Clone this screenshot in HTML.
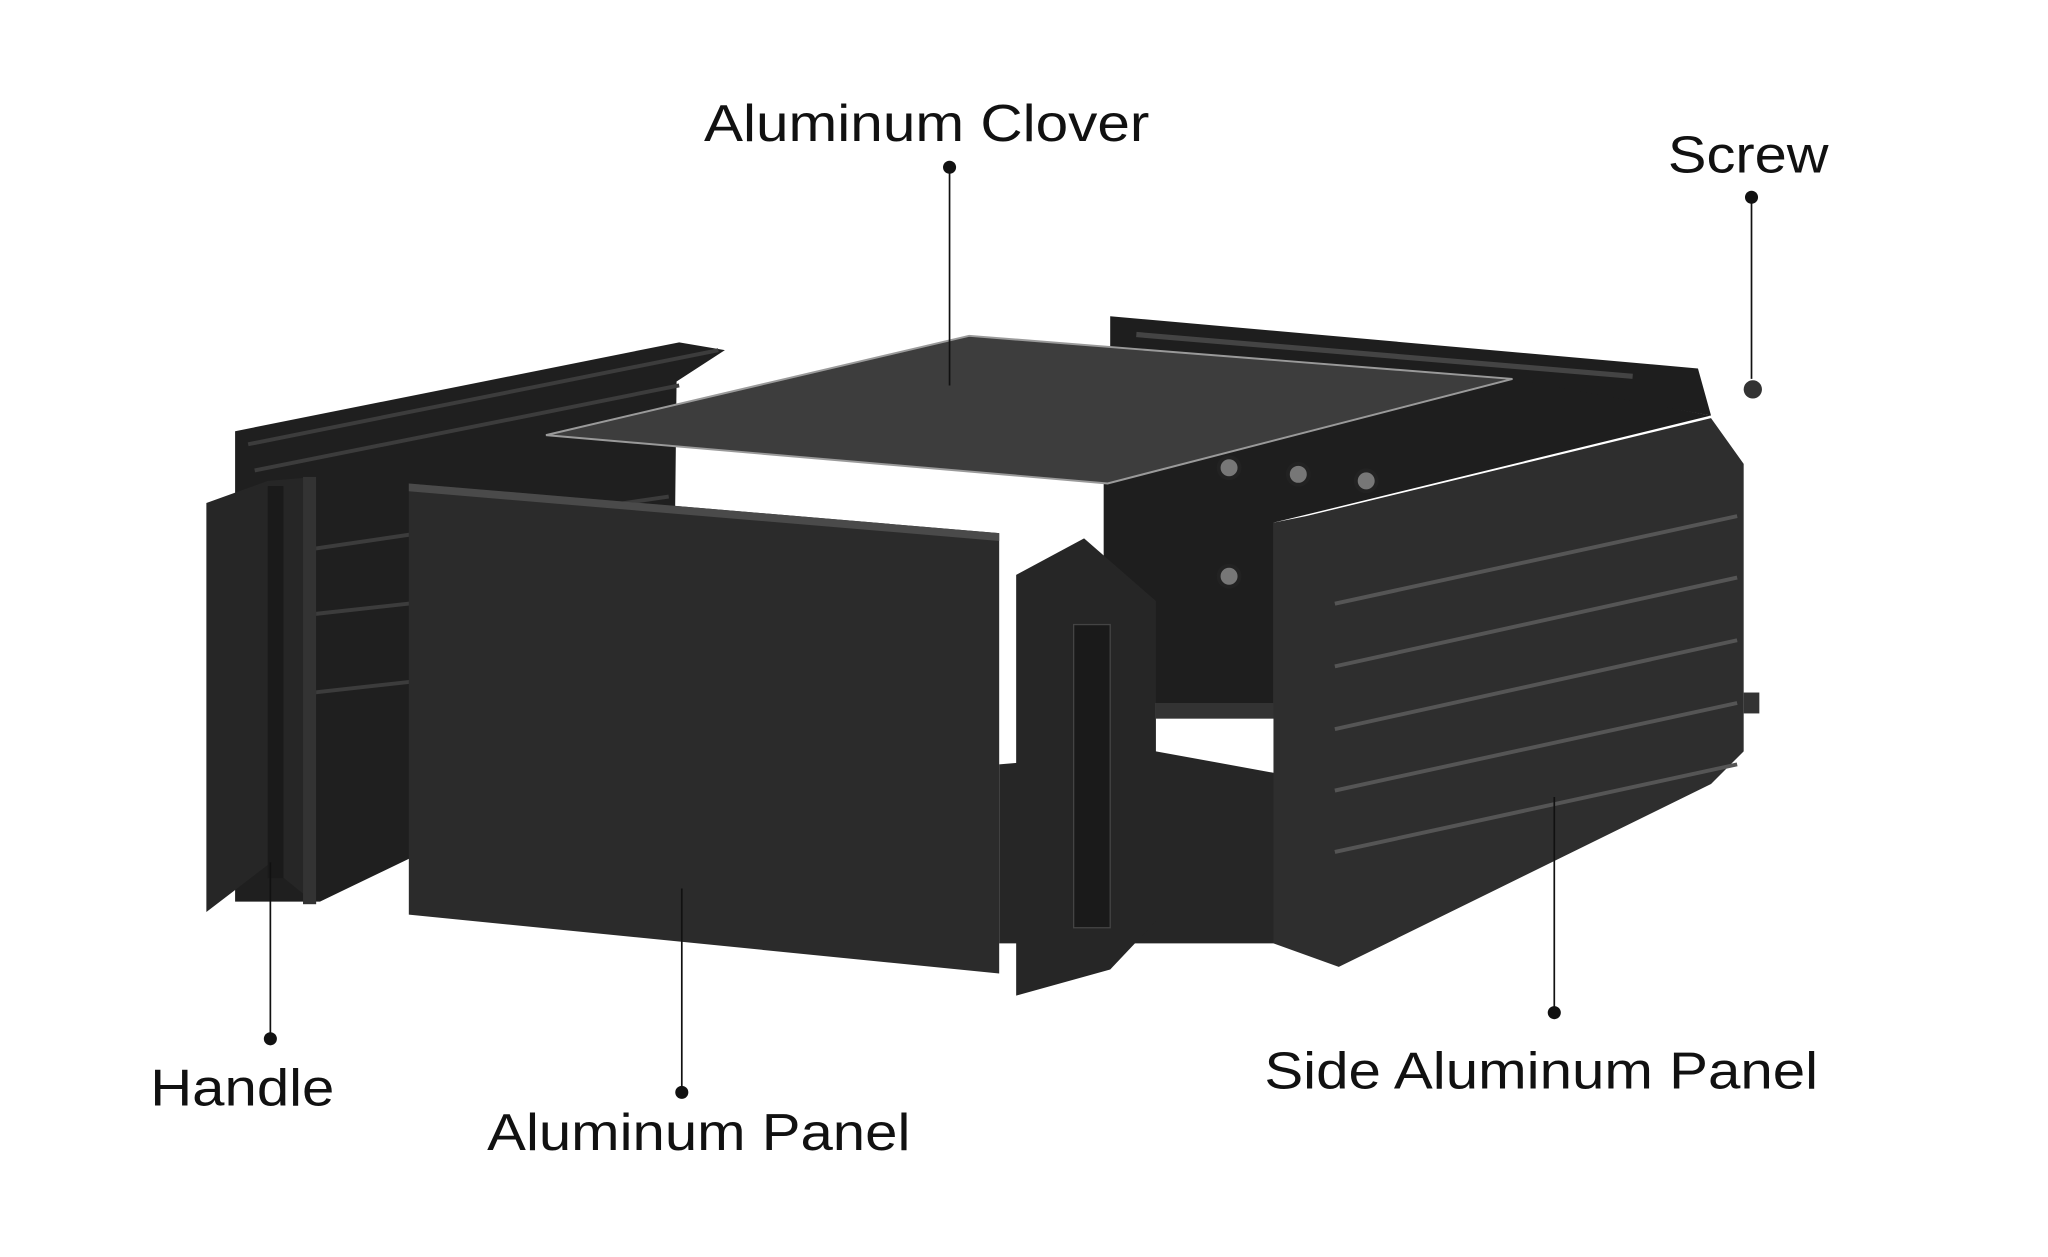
<!DOCTYPE html>
<html><head><meta charset="utf-8"><style>
html,body{margin:0;padding:0;background:#fff;}
svg{display:block;}
text{font-family:"Liberation Sans",sans-serif;fill:#111;}
</style></head><body>
<svg width="2048" height="1257" viewBox="0 0 1568 962" preserveAspectRatio="none" xmlns="http://www.w3.org/2000/svg">
<rect width="1568" height="962" fill="#fff"/>
<!-- back frame strip -->
<polygon points="850,242 1300,282 1310,318 1160,292 850,266" fill="#1e1e1e"/>
<line x1="870" y1="256" x2="1250" y2="288" stroke="#444" stroke-width="4"/>
<!-- back block -->
<polygon points="845,370 1158,290 1310,318 975,400 975,545 885,538 845,540" fill="#1e1e1e"/>
<!-- bottom plate -->
<polygon points="765,585 885,575 1022,600 1022,722 765,722" fill="#262626"/>
<rect x="885" y="538" width="137" height="12" fill="#333"/>
<!-- left rail -->
<polygon points="180,330 520,262 555,268 518,292 515,560 245,690 180,690" fill="#1f1f1f"/>
<g stroke="#3c3c3c" stroke-width="3">
<line x1="190" y1="340" x2="550" y2="268"/>
<line x1="195" y1="360" x2="520" y2="295"/>
<line x1="240" y1="420" x2="512" y2="380"/>
<line x1="240" y1="470" x2="512" y2="440"/>
<line x1="240" y1="530" x2="512" y2="500"/>
</g>
<!-- handle left -->
<polygon points="158,385 205,368 242,365 242,692 205,662 158,698" fill="#262626"/>
<rect x="205" y="372" width="12" height="300" fill="#1a1a1a"/>
<rect x="232" y="365" width="10" height="327" fill="#333"/>
<!-- top cover -->
<polygon points="418,333 742,257 1158,290 848,370" fill="#3d3d3d" stroke="#9a9a9a" stroke-width="1.5"/>
<!-- front panel -->
<polygon points="313,370 765,408 765,745 313,700" fill="#2b2b2b"/>
<polygon points="313,370 765,408 765,414 313,376" fill="#4a4a4a"/>
<!-- right front handle -->
<polygon points="778,440 830,412 885,460 885,705 850,742 778,762" fill="#262626"/>
<rect x="822" y="478" width="28" height="232" fill="#1a1a1a" stroke="#444"/>
<!-- screws on back -->
<g fill="#777" stroke="#222" stroke-width="3">
<circle cx="941" cy="358" r="8"/><circle cx="994" cy="363" r="8"/><circle cx="1046" cy="368" r="8"/>
<circle cx="941" cy="441" r="8"/><circle cx="994" cy="447" r="8"/>
</g>
<!-- side panel -->
<polygon points="975,400 1000,395 1310,320 1335,355 1335,575 1310,600 1025,740 975,722" fill="#2e2e2e"/>
<g stroke="#555" stroke-width="3">
<line x1="1022" y1="462" x2="1330" y2="395"/>
<line x1="1022" y1="510" x2="1330" y2="442"/>
<line x1="1022" y1="558" x2="1330" y2="490"/>
<line x1="1022" y1="605" x2="1330" y2="538"/>
<line x1="1022" y1="652" x2="1330" y2="585"/>
</g>
<circle cx="1342" cy="298" r="7" fill="#333"/>
<rect x="1335" y="530" width="12" height="16" fill="#333"/>
<!-- leader lines -->
<g stroke="#111" stroke-width="1.3">
<line x1="727" y1="128" x2="727" y2="295"/>
<line x1="1341" y1="151" x2="1341" y2="290"/>
<line x1="207" y1="660" x2="207" y2="795"/>
<line x1="522" y1="680" x2="522" y2="836"/>
<line x1="1190" y1="610" x2="1190" y2="775"/>
</g>
<g fill="#111">
<circle cx="727" cy="128" r="5"/><circle cx="1341" cy="151" r="5"/>
<circle cx="207" cy="795" r="5"/><circle cx="522" cy="836" r="5"/><circle cx="1190" cy="775" r="5"/>
</g>
<text x="539" y="108" font-size="40" textLength="341" lengthAdjust="spacingAndGlyphs">Aluminum Clover</text>
<text x="1277" y="132" font-size="40" textLength="123" lengthAdjust="spacingAndGlyphs">Screw</text>
<text x="115" y="846" font-size="40" textLength="141" lengthAdjust="spacingAndGlyphs">Handle</text>
<text x="373" y="880" font-size="40" textLength="324" lengthAdjust="spacingAndGlyphs">Aluminum Panel</text>
<text x="968" y="833" font-size="40" textLength="424" lengthAdjust="spacingAndGlyphs">Side Aluminum Panel</text>
</svg>
</body></html>
